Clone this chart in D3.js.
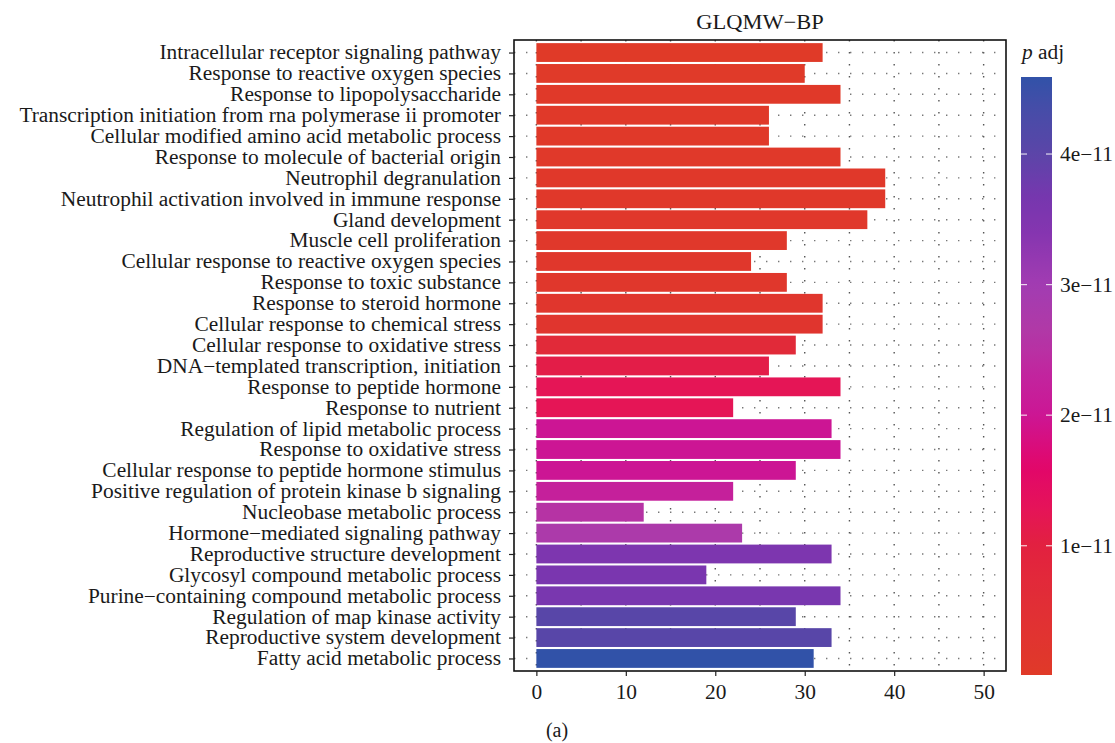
<!DOCTYPE html>
<html>
<head>
<meta charset="utf-8">
<script src="https://cdn.jsdelivr.net/npm/d3@7"></script>
<style>
  html, body { margin: 0; padding: 0; background: #fff; }
  svg { display: block; }
  text { font-family: "Liberation Serif", "Times New Roman", serif; fill: #1a1a1a; }
</style>
</head>
<body>
<svg id="chart" width="1115" height="743"></svg>
<script>
// GO biological process terms, top to bottom
const terms = [
  "Intracellular receptor signaling pathway",
  "Response to reactive oxygen species",
  "Response to lipopolysaccharide",
  "Transcription initiation from rna polymerase ii promoter",
  "Cellular modified amino acid metabolic process",
  "Response to molecule of bacterial origin",
  "Neutrophil degranulation",
  "Neutrophil activation involved in immune response",
  "Gland development",
  "Muscle cell proliferation",
  "Cellular response to reactive oxygen species",
  "Response to toxic substance",
  "Response to steroid hormone",
  "Cellular response to chemical stress",
  "Cellular response to oxidative stress",
  "DNA\u2212templated transcription, initiation",
  "Response to peptide hormone",
  "Response to nutrient",
  "Regulation of lipid metabolic process",
  "Response to oxidative stress",
  "Cellular response to peptide hormone stimulus",
  "Positive regulation of protein kinase b signaling",
  "Nucleobase metabolic process",
  "Hormone\u2212mediated signaling pathway",
  "Reproductive structure development",
  "Glycosyl compound metabolic process",
  "Purine\u2212containing compound metabolic process",
  "Regulation of map kinase activity",
  "Reproductive system development",
  "Fatty acid metabolic process"
];

// gene counts per term
const counts = [32, 30, 34, 26, 26, 34, 39, 39, 37, 28, 24, 28, 32, 32, 29,
                26, 34, 22, 33, 34, 29, 22, 12, 23, 33, 19, 34, 29, 33, 31];

// adjusted p-values per term
const padj = [1.0e-13, 2.0e-13, 3.0e-13, 5.0e-13, 5.0e-13, 6.0e-13, 8.0e-13, 8.0e-13,
              1.0e-12, 1.2e-12, 1.5e-12, 1.5e-12, 2.0e-12, 2.2e-12, 7.0e-12,
              1.1e-11, 1.25e-11, 1.25e-11, 2.0e-11, 2.0e-11, 2.0e-11, 2.2e-11,
              2.55e-11, 2.75e-11, 3.55e-11, 3.6e-11, 3.62e-11, 4.05e-11, 4.05e-11, 4.59e-11];

const xTicks = [0, 10, 20, 30, 40, 50];
const xMinor = [5, 15, 25, 35, 45];
const legendTicks = [1e-11, 2e-11, 3e-11, 4e-11];
const legendTickLabels = ["1e\u221211", "2e\u221211", "3e\u221211", "4e\u221211"];
const chartTitle = "GLQMW\u2212BP";

// fill gradient from low (red) through magenta and purple to high (blue)
const colourStops = [0, 0.5e-11, 1.0e-11, 1.3e-11, 1.6e-11, 2.0e-11, 2.3e-11,
                     2.7e-11, 3.0e-11, 3.4e-11, 3.7e-11, 4.0e-11, 4.6e-11];
const colourValues = ["#E03A28", "#E12F35", "#E2213F", "#E5125A", "#E2066A", "#CC1594", "#C2249E",
                      "#AE3AA8", "#A23CB2", "#8535B0", "#7437AE", "#5B45A8", "#3052A8"];

const FONT = 20;      // base text size
const STRETCH = 1.07; // slightly wider glyphs for the serif face

const svg = d3.select("#chart");

const panel = { left: 514, right: 1006, top: 40, bottom: 671 };

const x = d3.scaleLinear().domain([-2.5, 52.5]).range([panel.left, panel.right]);
const y = d3.scalePoint().domain(terms).range([panel.top, panel.bottom]).padding(0.6);
const barH = y.step() * 0.9;

const pMin = d3.min(padj), pMax = d3.max(padj);
const colour = d3.scaleLinear().domain(colourStops).range(colourValues)
  .interpolate(d3.interpolateLab).clamp(true);

// horizontal stretch about a text's own anchor point
function stretch(sel) {
  sel.attr("transform", function () {
    const tx = +this.getAttribute("x") || 0;
    const ty = +this.getAttribute("y") || 0;
    return `translate(${tx},${ty}) scale(${STRETCH},1) translate(${-tx},${-ty})`;
  });
}

// dotted grid
const grid = svg.append("g");
grid.selectAll("line.v").data(xTicks.concat(xMinor)).join("line")
  .attr("x1", d => x(d)).attr("x2", d => x(d))
  .attr("y1", panel.top).attr("y2", panel.bottom)
  .attr("stroke", "#555").attr("stroke-width", 1.4)
  .attr("stroke-dasharray", "1.4,10.6");
grid.selectAll("line.h").data(terms).join("line")
  .attr("x1", panel.left).attr("x2", panel.right)
  .attr("y1", d => y(d)).attr("y2", d => y(d))
  .attr("stroke", "#777").attr("stroke-width", 1.4)
  .attr("stroke-dasharray", "1.4,10.6")
  .attr("stroke-dashoffset", -12);

// bars
svg.append("g").selectAll("rect").data(terms).join("rect")
  .attr("x", x(0))
  .attr("y", d => y(d) - barH / 2)
  .attr("width", (d, i) => x(counts[i]) - x(0))
  .attr("height", barH)
  .attr("fill", (d, i) => colour(padj[i]));

// panel border
svg.append("rect")
  .attr("x", panel.left).attr("y", panel.top)
  .attr("width", panel.right - panel.left).attr("height", panel.bottom - panel.top)
  .attr("fill", "none").attr("stroke", "#111").attr("stroke-width", 1.6);

// y axis
const yAxis = svg.append("g")
  .attr("transform", `translate(${panel.left},0)`)
  .call(d3.axisLeft(y).tickSize(5).tickPadding(8));
yAxis.select(".domain").remove();
yAxis.selectAll(".tick line").attr("stroke", "#222").attr("stroke-width", 1.2);
yAxis.selectAll(".tick text").attr("font-size", FONT)
  .style("font-family", '"Liberation Serif", serif').attr("fill", "#1a1a1a")
  .call(stretch);

// x axis
const xAxis = svg.append("g")
  .attr("transform", `translate(0,${panel.bottom})`)
  .call(d3.axisBottom(x).tickValues(xTicks).tickSize(5).tickPadding(9));
xAxis.select(".domain").remove();
xAxis.selectAll(".tick line").attr("stroke", "#222").attr("stroke-width", 1.2);
xAxis.selectAll(".tick text").attr("font-size", FONT)
  .style("font-family", '"Liberation Serif", serif').attr("fill", "#1a1a1a")
  .call(stretch);

// title
svg.append("text")
  .attr("x", (panel.left + panel.right) / 2).attr("y", 29)
  .attr("text-anchor", "middle").attr("font-size", FONT + 1)
  .text(chartTitle)
  .call(stretch);

// colour bar legend
const bar = { x: 1021, w: 31, top: 77, bottom: 675 };
const legendY = d3.scaleLinear().domain([pMin, pMax]).range([bar.bottom, bar.top]);

const defs = svg.append("defs");
const grad = defs.append("linearGradient").attr("id", "padj-grad")
  .attr("x1", 0).attr("y1", 1).attr("x2", 0).attr("y2", 0);
d3.range(0, 1.0001, 0.02).forEach(t => {
  grad.append("stop").attr("offset", t)
    .attr("stop-color", colour(pMin + t * (pMax - pMin)));
});
svg.append("rect")
  .attr("x", bar.x).attr("y", bar.top)
  .attr("width", bar.w).attr("height", bar.bottom - bar.top)
  .attr("fill", "url(#padj-grad)");

const lt = svg.append("g");
lt.selectAll("line.l").data(legendTicks).join("line")
  .attr("x1", bar.x).attr("x2", bar.x + 6)
  .attr("y1", d => legendY(d)).attr("y2", d => legendY(d))
  .attr("stroke", "#fff").attr("stroke-opacity", 0.8).attr("stroke-width", 1.2);
lt.selectAll("line.r").data(legendTicks).join("line")
  .attr("x1", bar.x + bar.w - 6).attr("x2", bar.x + bar.w)
  .attr("y1", d => legendY(d)).attr("y2", d => legendY(d))
  .attr("stroke", "#fff").attr("stroke-opacity", 0.8).attr("stroke-width", 1.2);
lt.selectAll("text").data(legendTicks).join("text")
  .attr("x", bar.x + bar.w + 8).attr("y", d => legendY(d))
  .attr("dy", "0.35em").attr("font-size", FONT)
  .text((d, i) => legendTickLabels[i])
  .call(stretch);

const lTitle = svg.append("text").attr("x", 1022).attr("y", 59).attr("font-size", FONT);
lTitle.append("tspan").attr("font-style", "italic").text("p");
lTitle.append("tspan").text(" adj");
lTitle.call(stretch);

// panel caption
svg.append("text")
  .attr("x", 557).attr("y", 737)
  .attr("text-anchor", "middle").attr("font-size", FONT)
  .text("(a)");
</script>
</body>
</html>
